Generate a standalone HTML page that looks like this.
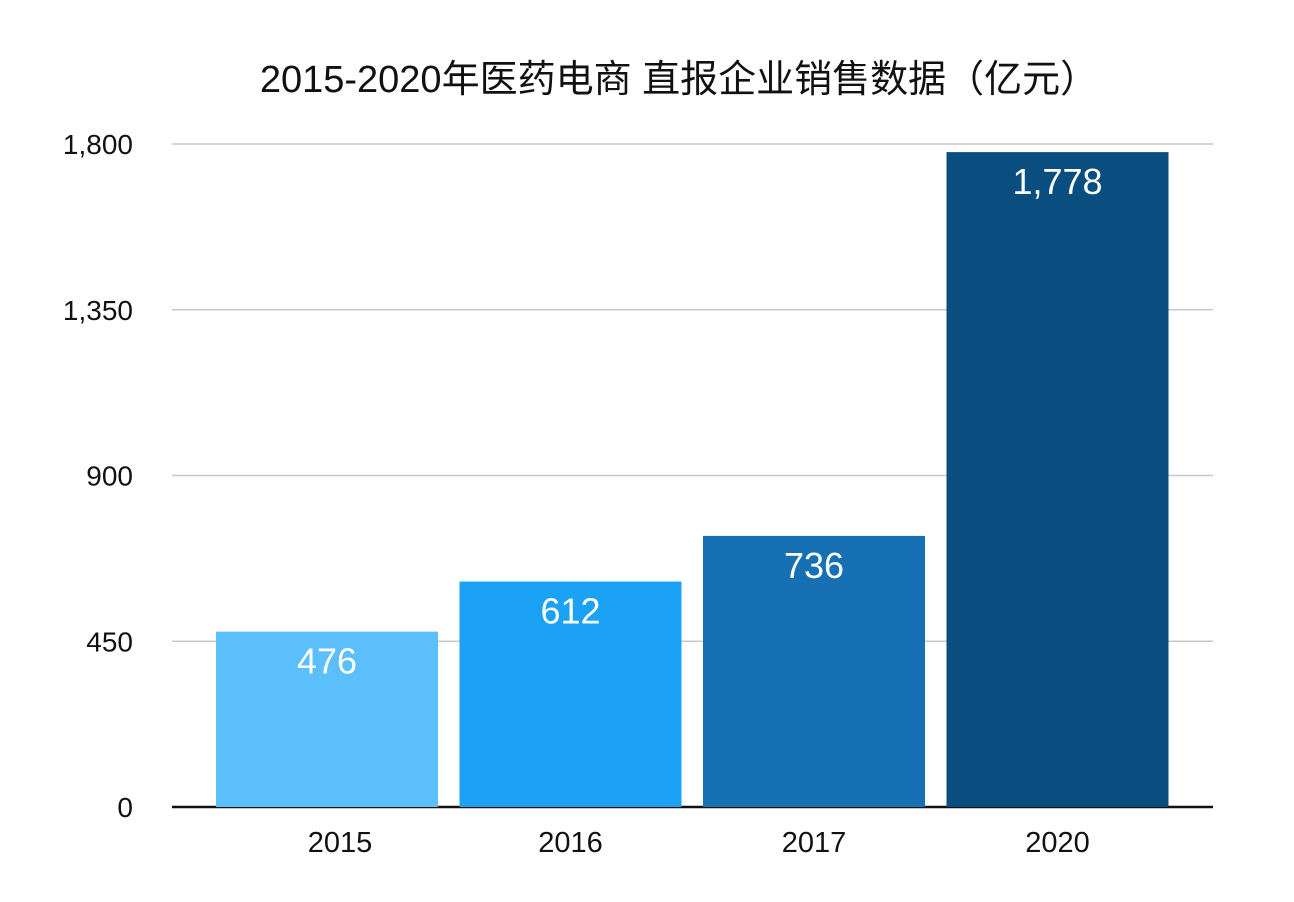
<!DOCTYPE html>
<html><head><meta charset="utf-8">
<style>
html,body{margin:0;padding:0;background:#fff;}
svg{display:block;font-family:"Liberation Sans","Noto Sans CJK SC",sans-serif;}
</style></head>
<body>
<svg id="chart" width="1294" height="902" viewBox="0 0 1294 902" xmlns="http://www.w3.org/2000/svg">
<text x="679" y="92" font-size="38" text-anchor="middle" fill="#111">2015-2020年医药电商 直报企业销售数据（亿元）</text>
<g id="grid"></g><g id="bars"></g><g id="labels"></g>
</svg>
<script>
const categories = ["2015","2016","2017","2020"];
const values = [476, 612, 736, 1778];
const valueLabels = ["476","612","736","1,778"];
const ticks = [0, 450, 900, 1350, 1800];
const tickLabels = ["0","450","900","1,350","1,800"];
const colors = ["#5bbffb","#1ca2f5","#1670b3","#0a4e80"];
const NS="http://www.w3.org/2000/svg";
const left=172,right=1213,y0=807,yTop=144,maxV=1800;
const y=v=>y0-(v/maxV)*(y0-yTop);
const step=243.5;
const bx=i=>216+i*step;
const bw=222;
function mk(t,a,p){const e=document.createElementNS(NS,t);for(const k in a)e.setAttribute(k,a[k]);p.appendChild(e);return e;}
const grid=document.getElementById('grid'),bars=document.getElementById('bars'),labels=document.getElementById('labels');
ticks.forEach((t,i)=>{
  if(t>0){const l=mk('line',{x1:left,x2:right,y1:y(t),y2:y(t),stroke:'#c8c8c8','stroke-width':1.5},grid);
  
  }
  const tx=mk('text',{x:133,y:y(t)+10,'font-size':28,'text-anchor':'end',fill:'#111'},grid);
  tx.textContent=tickLabels[i];
  
  
});
categories.forEach((c,i)=>{
  const x=bx(i);
  const r=mk('rect',{x:x,y:y(values[i]),width:bw,height:y0-y(values[i]),fill:colors[i]},bars);
  
  
  const v=mk('text',{x:x+bw/2,y:y(values[i])+42,'font-size':36,'text-anchor':'middle',fill:'#fff'},labels);
  v.textContent=valueLabels[i];
  
  
  const xl=mk('text',{x:x+bw/2+(i===0?13:0),y:852,'font-size':29,'text-anchor':'middle',fill:'#111'},labels);
  xl.textContent=c;
  
  
});
const ax=mk('line',{x1:left,x2:right,y1:y0,y2:y0,stroke:'#111','stroke-width':2.5},grid);


</script>
</body></html>
